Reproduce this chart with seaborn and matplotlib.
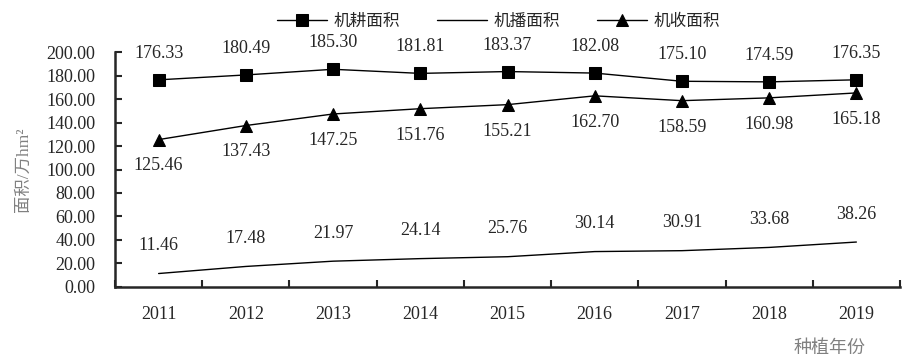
import pandas as pd
import seaborn as sns
import matplotlib.pyplot as plt

years = ['2011', '2012', '2013', '2014', '2015', '2016', '2017', '2018', '2019']
jigeng = [176.33, 180.49, 185.30, 181.81, 183.37, 182.08, 175.10, 174.59, 176.35]
jibo = [11.46, 17.48, 21.97, 24.14, 25.76, 30.14, 30.91, 33.68, 38.26]
jishou = [125.46, 137.43, 147.25, 151.76, 155.21, 162.70, 158.59, 160.98, 165.18]

sns.set_style('ticks')
plt.rcParams['font.family'] = ['Liberation Serif', 'Noto Sans CJK SC', 'DejaVu Sans']

df = pd.DataFrame({'idx': range(len(years)), '机耕面积': jigeng, '机播面积': jibo, '机收面积': jishou})

fig = plt.figure(figsize=(9.15, 3.63), dpi=100)
ax = fig.add_axes([0.1257, 0.2094, 0.8579, 0.6473])

sns.lineplot(data=df, x='idx', y='机耕面积', ax=ax, color='black', lw=1,
             marker='s', markersize=9, markeredgecolor='black', label='机耕面积')
sns.lineplot(data=df, x='idx', y='机播面积', ax=ax, color='black', lw=1, label='机播面积')
sns.lineplot(data=df, x='idx', y='机收面积', ax=ax, color='black', lw=1,
             marker='^', markersize=8, markeredgecolor='black', label='机收面积')

# 数据标签
fs = 13
for i in range(len(years)):
    ax.annotate(f'{jigeng[i]:.2f}', (i, jigeng[i]), xytext=(0, 19), textcoords='offset points',
                ha='center', va='center', fontsize=fs)
    ax.annotate(f'{jibo[i]:.2f}', (i, jibo[i]), xytext=(0, 20), textcoords='offset points',
                ha='center', va='center', fontsize=fs)
    ax.annotate(f'{jishou[i]:.2f}', (i, jishou[i]), xytext=(0, -19), textcoords='offset points',
                ha='center', va='center', fontsize=fs)

ax.set_xlim(-0.5, 8.5)
ax.set_ylim(0, 200)
ax.set_yticks(range(0, 201, 20))
ax.set_yticklabels([f'{v:.2f}' for v in range(0, 201, 20)], fontsize=fs)
ax.set_xticks(range(len(years)))
ax.set_xticklabels(years, fontsize=fs)
ax.tick_params(axis='x', length=0, pad=14)
ax.set_xticks([i + 0.5 for i in range(-1, len(years))], minor=True)
ax.tick_params(axis='x', which='minor', direction='in', length=5, width=1.5)
ax.tick_params(axis='y', direction='in', length=5, width=1.5, pad=14)
for s in ['left', 'bottom']:
    ax.spines[s].set_linewidth(1.8)
sns.despine(ax=ax)

ax.set_ylabel('面积/万hm²', color='#808080', fontsize=12.5)
ax.yaxis.set_label_coords(-0.106, 0.5)
ax.set_xlabel('种植年份', color='#808080', fontsize=13)
ax.xaxis.set_label_coords(0.91, -0.225)

fig.legend(*ax.get_legend_handles_labels(), loc='center', bbox_to_anchor=(0.545, 0.94), ncol=3,
           frameon=False, fontsize=12, handlelength=3.0, handletextpad=0.4, columnspacing=2.2)
ax.get_legend().remove()

fig.savefig('out.png', dpi=100)
